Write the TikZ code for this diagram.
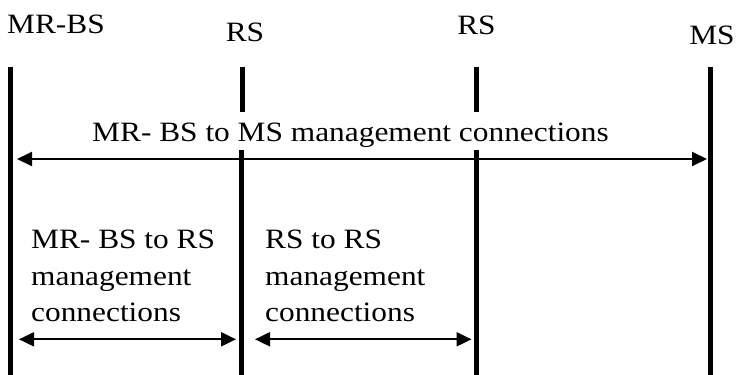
\documentclass[tikz,border=0pt]{standalone}
\usepackage{fontspec}
\setmainfont{Liberation Serif}[FakeStretch=1.12]
\usetikzlibrary{arrows.meta}
\begin{document}
\begin{tikzpicture}[x=1pt,y=-1pt,
  lbl/.style={inner sep=0pt, font=\fontsize{28}{36.7}\selectfont},
  lifeline/.style={line width=5pt},
  conn/.style={line width=2pt, {Triangle[length=15pt,width=14pt]}-{Triangle[length=15pt,width=14pt]}, shorten <=0pt, shorten >=0pt}]
\useasboundingbox (0,0) rectangle (737,375);
% labels
\node[lbl, anchor=base west] (mrbs) at (7,33) {MR-BS};
\node[lbl, anchor=base] (rs1) at (245,41) {RS};
\node[lbl, anchor=base] (rs2) at (476.5,34) {RS};
\node[lbl, anchor=base] (ms) at (712,44) {MS};
\node[lbl, anchor=base] (top) at (350.5,141.7) {MR- BS to MS management connections};
\node[lbl, anchor=north west, align=left] (left) at (31,229.8) {MR- BS to RS\\management\\connections};
\node[lbl, anchor=north west, align=left] (mid) at (265,229.8) {RS to RS\\management\\connections};
% lifeline coordinates
\coordinate (a0) at (10.7,67);  \coordinate (a1) at (10.7,375);
\coordinate (b0) at (242,67);   \coordinate (b1) at (242,112);
\coordinate (b2) at (241,150);  \coordinate (b3) at (241,375);
\coordinate (c0) at (476.5,67); \coordinate (c1) at (476.5,112);
\coordinate (c2) at (476,150);  \coordinate (c3) at (476,375);
\coordinate (d0) at (710,67);   \coordinate (d1) at (710,375);
\draw[lifeline] (a0) -- (a1);
\draw[lifeline] (b0) -- (b1);
\draw[lifeline] (b2) -- (b3);
\draw[lifeline] (c0) -- (c1);
\draw[lifeline] (c2) -- (c3);
\draw[lifeline] (d0) -- (d1);
% connection arrows
\coordinate (t0) at (17,159);  \coordinate (t1) at (707,159);
\coordinate (l0) at (19,339.3); \coordinate (l1) at (236,339.3);
\coordinate (m0) at (255,339.3); \coordinate (m1) at (471.5,339.3);
\draw[conn] (t0) -- (t1);
\draw[conn] (l0) -- (l1);
\draw[conn] (m0) -- (m1);
\end{tikzpicture}
\end{document}
